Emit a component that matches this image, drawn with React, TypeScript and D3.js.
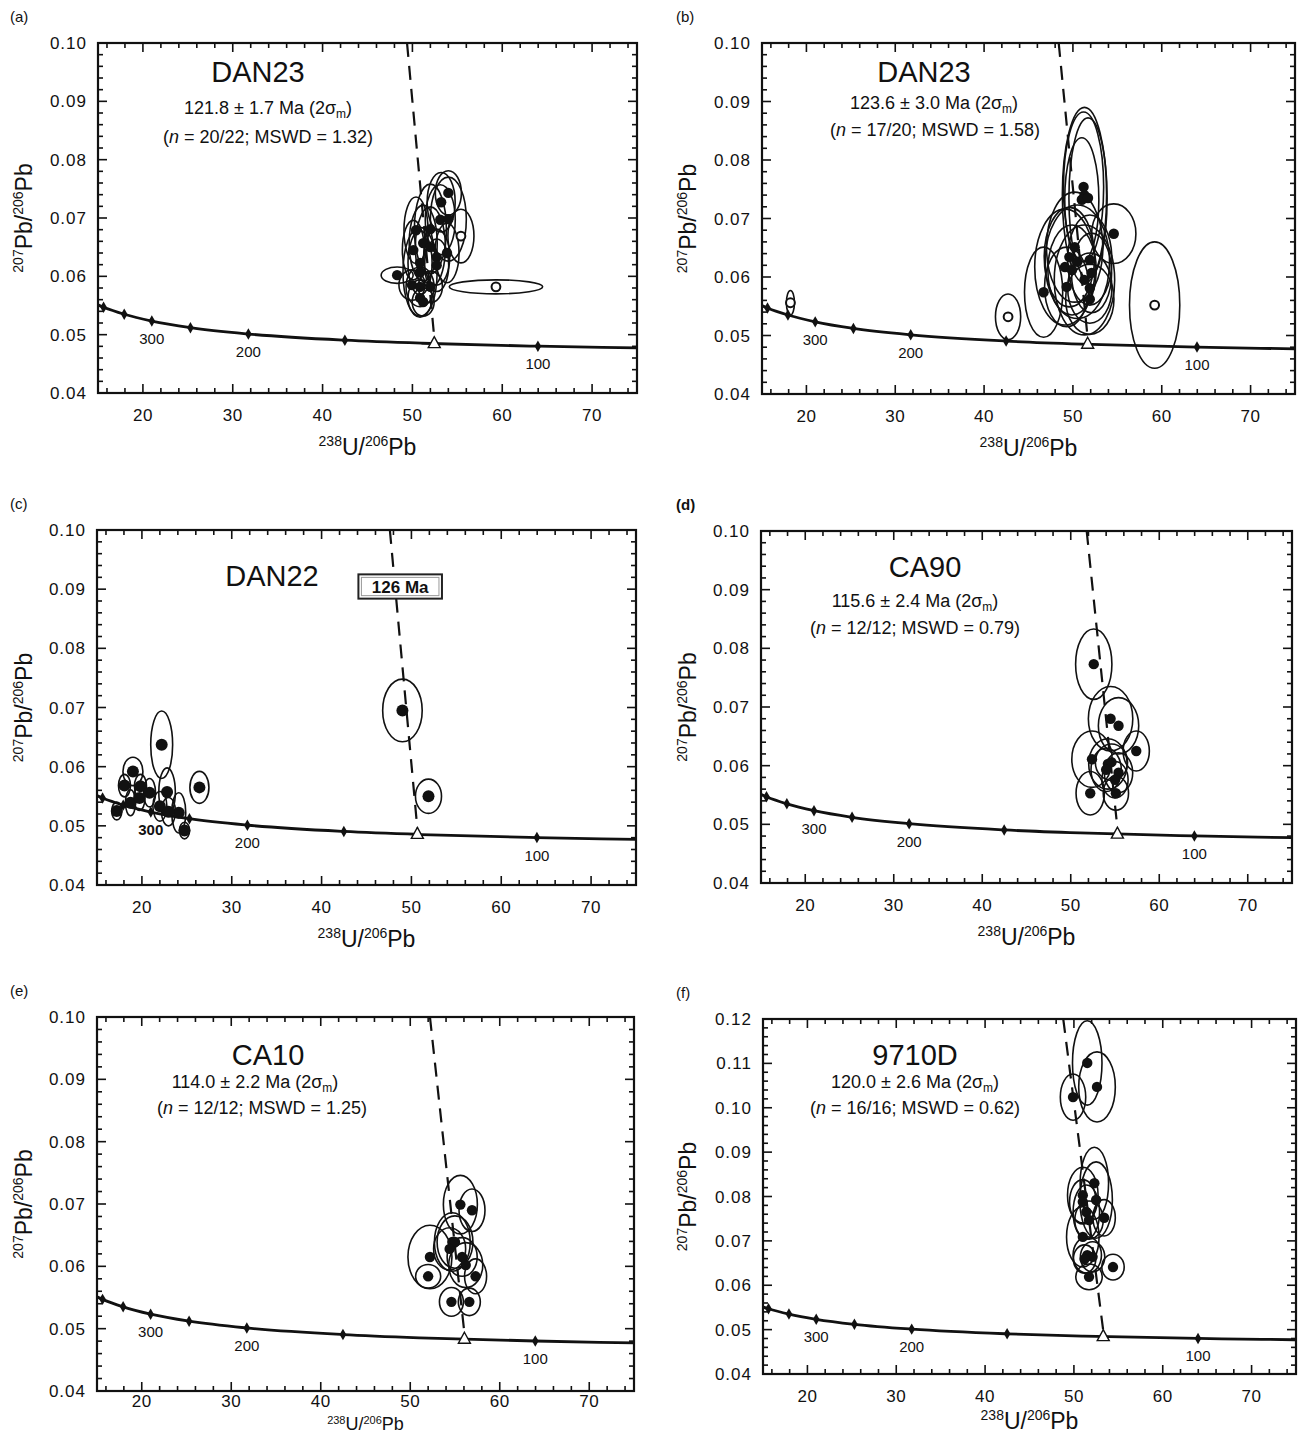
import React from 'react';
import * as d3 from 'd3';

// Tera-Wasserburg concordia nodes (age Ma, 238U/206Pb, 207Pb/206Pb)
const concordiaAge = [450, 400, 350, 300, 250, 200, 150, 125, 100, 90, 80];
const concordiaU = [13.83, 15.62, 17.92, 20.99, 25.29, 31.74, 42.48, 51.07, 63.97, 71.13, 80.08];
const concordiaPb = [0.05594, 0.0547, 0.0535, 0.05233, 0.0512, 0.05011, 0.04905, 0.04853, 0.04802, 0.04781, 0.04761];
const markerAges = [400, 350, 300, 250, 200, 150, 100];
const labelAges = [300, 200, 100];

const xTickLabels = [20, 30, 40, 50, 60, 70];
const yTickLabels = [0.04, 0.05, 0.06, 0.07, 0.08, 0.09, 0.1];
const yTickLabelsF = [0.04, 0.05, 0.06, 0.07, 0.08, 0.09, 0.1, 0.11, 0.12];

// ellipses: [238U/206Pb, 207Pb/206Pb, half-width x, half-height y, used(1)/rejected(0)]
const ellA = [
  [54.0, 0.0743, 1.45, 0.0038, 1],
  [53.2, 0.0727, 1.56, 0.0051, 1],
  [53.1, 0.0697, 1.67, 0.006, 1],
  [54.0, 0.0698, 2.0, 0.0072, 1],
  [50.4, 0.0679, 1.34, 0.0057, 1],
  [51.2, 0.0657, 1.56, 0.0065, 1],
  [52.0, 0.065, 1.67, 0.0069, 1],
  [50.1, 0.0645, 1.22, 0.0051, 1],
  [52.7, 0.0633, 1.45, 0.0048, 1],
  [53.85, 0.064, 1.34, 0.0051, 1],
  [52.7, 0.0619, 1.34, 0.0045, 1],
  [50.85, 0.0623, 1.34, 0.0055, 1],
  [49.95, 0.0585, 1.45, 0.0026, 1],
  [52.0, 0.0582, 1.34, 0.0027, 1],
  [50.85, 0.0563, 1.34, 0.0031, 1],
  [51.2, 0.0556, 1.22, 0.0024, 1],
  [50.85, 0.0582, 1.56, 0.0034, 1],
  [48.3, 0.0602, 1.78, 0.0014, 1],
  [52.0, 0.0681, 1.78, 0.0077, 1],
  [50.85, 0.0607, 1.9, 0.0077, 1],
  [55.4, 0.0669, 1.45, 0.0046, 0],
  [59.3, 0.0582, 5.2, 0.0012, 0],
];
const ellB = [
  [51.2, 0.0754, 2.26, 0.0128, 1],
  [51.3, 0.074, 2.49, 0.015, 1],
  [51.0, 0.0732, 1.92, 0.0106, 1],
  [51.7, 0.0735, 2.15, 0.0137, 1],
  [54.6, 0.0674, 2.49, 0.0051, 1],
  [50.2, 0.0651, 3.17, 0.0094, 1],
  [49.6, 0.0634, 2.83, 0.0085, 1],
  [51.9, 0.0629, 2.49, 0.0077, 1],
  [49.1, 0.0617, 3.4, 0.0099, 1],
  [49.9, 0.0612, 2.72, 0.0077, 1],
  [52.1, 0.0607, 2.26, 0.0068, 1],
  [51.3, 0.0595, 3.4, 0.0094, 1],
  [46.7, 0.0574, 2.15, 0.0077, 1],
  [49.3, 0.0583, 2.49, 0.0068, 1],
  [51.9, 0.0581, 2.49, 0.006, 1],
  [51.9, 0.0562, 2.72, 0.006, 1],
  [50.5, 0.0626, 3.62, 0.0097, 1],
  [42.7, 0.0532, 1.42, 0.0039, 0],
  [59.2, 0.0552, 2.83, 0.0108, 0],
  [18.2, 0.0556, 0.45, 0.0021, 0],
];
const ellC = [
  [22.2, 0.0637, 1.22, 0.0057, 1],
  [19.0, 0.0592, 1.11, 0.0024, 1],
  [26.4, 0.0565, 1.06, 0.0027, 1],
  [18.06, 0.0568, 0.67, 0.0019, 1],
  [19.84, 0.0567, 0.67, 0.002, 1],
  [20.85, 0.0556, 0.67, 0.0024, 1],
  [18.73, 0.0539, 0.56, 0.0022, 1],
  [19.73, 0.0547, 0.61, 0.0021, 1],
  [22.8, 0.0557, 0.92, 0.0041, 1],
  [22.0, 0.0533, 0.78, 0.0025, 1],
  [24.1, 0.0522, 0.78, 0.0034, 1],
  [22.96, 0.0524, 0.78, 0.0024, 1],
  [17.2, 0.0525, 0.56, 0.0015, 1],
  [24.74, 0.0492, 0.56, 0.0014, 1],
  [49.0, 0.0695, 2.2, 0.0053, 1],
  [51.9, 0.055, 1.45, 0.0029, 1],
];
const ellD = [
  [52.6, 0.0773, 2.05, 0.006, 1],
  [54.5, 0.068, 2.51, 0.0055, 1],
  [55.4, 0.0668, 2.28, 0.0048, 1],
  [57.4, 0.0625, 1.48, 0.0034, 1],
  [52.4, 0.0611, 2.28, 0.0048, 1],
  [52.2, 0.0553, 1.6, 0.0037, 1],
  [54.2, 0.0603, 2.17, 0.0043, 1],
  [54.6, 0.0606, 1.82, 0.0031, 1],
  [54.0, 0.0593, 1.71, 0.0037, 1],
  [55.4, 0.0588, 1.6, 0.0034, 1],
  [55.0, 0.0576, 1.48, 0.0031, 1],
  [55.1, 0.0553, 1.43, 0.0029, 1],
];
const ellE = [
  [55.6, 0.0699, 1.9, 0.0047, 1],
  [56.9, 0.069, 1.45, 0.0034, 1],
  [52.2, 0.0615, 2.46, 0.0051, 1],
  [54.7, 0.0639, 2.0, 0.0047, 1],
  [55.0, 0.0639, 2.0, 0.0042, 1],
  [54.4, 0.0628, 1.79, 0.0034, 1],
  [52.0, 0.0584, 1.4, 0.0019, 1],
  [56.2, 0.0602, 1.9, 0.0036, 1],
  [57.3, 0.0584, 1.23, 0.0028, 1],
  [54.6, 0.0543, 1.34, 0.0023, 1],
  [56.6, 0.0543, 1.23, 0.0022, 1],
  [55.8, 0.0615, 1.68, 0.0031, 1],
];
const ellF = [
  [51.5, 0.1101, 1.66, 0.0095, 1],
  [52.6, 0.1047, 2.06, 0.0079, 1],
  [49.9, 0.1024, 1.43, 0.0052, 1],
  [52.3, 0.083, 1.6, 0.0081, 1],
  [51.0, 0.0803, 1.72, 0.0063, 1],
  [51.0, 0.0788, 1.49, 0.005, 1],
  [51.4, 0.0765, 1.49, 0.0061, 1],
  [53.4, 0.0752, 1.26, 0.0041, 1],
  [51.7, 0.0747, 1.6, 0.0043, 1],
  [51.0, 0.0709, 1.83, 0.0068, 1],
  [51.5, 0.0668, 1.6, 0.0041, 1],
  [52.1, 0.0664, 1.37, 0.0034, 1],
  [51.2, 0.0659, 1.26, 0.0032, 1],
  [54.4, 0.0641, 1.26, 0.0029, 1],
  [51.7, 0.0619, 1.49, 0.0029, 1],
  [52.5, 0.0792, 1.83, 0.0086, 1],
];

// discordia: [upper point x, upper point y, intercept x, intercept y]
const discA = [49.4, 0.1, 52.43, 0.04846];
const discB = [48.4, 0.1, 51.66, 0.0485];
const discC = [47.6, 0.1, 50.66, 0.04855];
const discD = [51.8, 0.1, 55.27, 0.04833];
const discE = [52.2, 0.1, 56.05, 0.0483];
const discF = [48.8, 0.12, 53.3, 0.04842];

const FONT = "'Liberation Sans', Arial, Helvetica, sans-serif";

const panels = [
  { id: 'a', label: '(a)', bold: false, left: 98, top: 43, width: 539, height: 350, yMax: 0.1, ell: ellA, disc: discA,
    sample: 'DAN23', age: '121.8 ± 1.7 Ma', stats: ' = 20/22; MSWD = 1.32', t: [160, 39], s: [170, 71], m: [170, 100] },
  { id: 'b', label: '(b)', bold: false, left: 762, top: 43, width: 533, height: 351, yMax: 0.1, ell: ellB, disc: discB,
    sample: 'DAN23', age: '123.6 ± 3.0 Ma', stats: ' = 17/20; MSWD = 1.58', t: [162, 39], s: [172, 66], m: [173, 93] },
  { id: 'c', label: '(c)', bold: false, left: 97, top: 530, width: 539, height: 355, yMax: 0.1, ell: ellC, disc: discC,
    sample: 'DAN22', box: '126  Ma', t: [175, 56] },
  { id: 'd', label: '(d)', bold: true, left: 761, top: 531, width: 531, height: 352, yMax: 0.1, ell: ellD, disc: discD,
    sample: 'CA90', age: '115.6 ± 2.4 Ma', stats: ' = 12/12; MSWD = 0.79', t: [164, 46], s: [154, 76], m: [154, 103] },
  { id: 'e', label: '(e)', bold: false, left: 97, top: 1017, width: 537, height: 374, yMax: 0.1, ell: ellE, disc: discE,
    sample: 'CA10', age: '114.0 ± 2.2 Ma', stats: ' = 12/12; MSWD = 1.25', t: [171, 48], s: [158, 71], m: [165, 97],
    tickDy: 16, titleY: 1430, titleSize: 18 },
  { id: 'f', label: '(f)', bold: false, left: 763, top: 1019, width: 533, height: 355, yMax: 0.12, ell: ellF, disc: discF,
    sample: '9710D', age: '120.0 ± 2.6 Ma', stats: ' = 16/16; MSWD = 0.62', t: [152, 46], s: [152, 69], m: [152, 95],
    titleY: 1429 },
];

const isMajor = (v: number, step: number) => Math.abs(v / step - Math.round(v / step)) < 1e-6;

function Panel({ p }: { p: any }) {
  const x = d3.scaleLinear().domain([15, 75]).range([p.left, p.left + p.width]);
  const y = d3.scaleLinear().domain([0.04, p.yMax]).range([p.top + p.height, p.top]);
  const bottom = p.top + p.height;
  const right = p.left + p.width;
  const xMinor = x.ticks(30);
  const yMinor = y.ticks(p.yMax > 0.1 ? 40 : 30);
  const yLabels = p.yMax > 0.1 ? yTickLabelsF : yTickLabels;

  const nodes = concordiaAge.map((a, i) => ({ age: a, u: concordiaU[i], pb: concordiaPb[i] }));
  const line = d3.line<any>().x(d => x(d.u)).y(d => y(d.pb)).curve(d3.curveMonotoneX);
  const diamond = d3.symbol().type(d3.symbolDiamond).size(38)();
  const clip = `clip-${p.id}`;
  const [ux, uy, ix, iy] = p.disc;
  const tx = x(ix), ty = y(iy);
  const cx = (p.left + right) / 2;
  const cy = (p.top + bottom) / 2;
  const yTitleX = p.left < 400 ? 24 : 688;
  const tickDy = p.tickDy || 28;
  const titleY = p.titleY || bottom + 62;
  const tSize = p.titleSize || 23;
  const supSize = tSize < 22 ? 11 : 14;
  const supDy = tSize < 22 ? 6 : 9;

  return (
    <g fontFamily={FONT} fill="#111">
      <clipPath id={clip}>
        <rect x={p.left} y={p.top} width={p.width} height={p.height} />
      </clipPath>
      <text x={p.left < 400 ? 10 : 676} y={p.top - 21} fontSize={15} fontWeight={p.bold ? 'bold' : 'normal'}>{p.label}</text>

      <g clipPath={`url(#${clip})`}>
        <path d={line(nodes) || ''} fill="none" stroke="#111" strokeWidth={2.8} />
        {nodes.filter(n => markerAges.includes(n.age)).map(n => (
          <path key={n.age} d={diamond || ''} transform={`translate(${x(n.u)},${y(n.pb)})`} fill="#111" />
        ))}
        <line x1={x(ux)} y1={y(uy)} x2={tx} y2={ty - 6} stroke="#111" strokeWidth={2.2} strokeDasharray="14 9" />
        {p.ell.map((e: number[], i: number) => (
          <ellipse key={i} cx={x(e[0])} cy={y(e[1])} rx={x(e[0] + e[2]) - x(e[0])} ry={y(e[1]) - y(e[1] + e[3])}
            fill="none" stroke="#111" strokeWidth={1.6} />
        ))}
        {p.ell.map((e: number[], i: number) => e[4] ? (
          <circle key={'d' + i} cx={x(e[0])} cy={y(e[1])} r={p.id === 'c' ? 6 : 5.2} fill="#111" />
        ) : (
          <circle key={'d' + i} cx={x(e[0])} cy={y(e[1])} r={4.4} fill="#fff" stroke="#111" strokeWidth={2} />
        ))}
      </g>
      <path d={`M${tx},${ty - 7}L${tx + 6},${ty + 4}L${tx - 6},${ty + 4}Z`} fill="#fff" stroke="#111" strokeWidth={1.4} />
      {nodes.filter(n => labelAges.includes(n.age)).map(n => (
        <text key={n.age} x={x(n.u)} y={y(n.pb) + 23} fontSize={15} textAnchor="middle"
          fontWeight={p.id === 'c' && n.age === 300 ? 'bold' : 'normal'}>{n.age}</text>
      ))}

      <rect x={p.left} y={p.top} width={p.width} height={p.height} fill="none" stroke="#111" strokeWidth={2.2} />
      {xMinor.map(v => {
        const L = isMajor(v, 10) ? 9 : 5;
        return (
          <g key={'x' + v} stroke="#111" strokeWidth={1.6}>
            <line x1={x(v)} x2={x(v)} y1={bottom} y2={bottom - L} />
            <line x1={x(v)} x2={x(v)} y1={p.top} y2={p.top + L} />
          </g>
        );
      })}
      {yMinor.map(v => {
        const L = isMajor(v, 0.01) ? 9 : 5;
        return (
          <g key={'y' + v} stroke="#111" strokeWidth={1.6}>
            <line x1={p.left} x2={p.left + L} y1={y(v)} y2={y(v)} />
            <line x1={right} x2={right - L} y1={y(v)} y2={y(v)} />
          </g>
        );
      })}
      {xTickLabels.map(v => (
        <text key={'xl' + v} x={x(v)} y={bottom + tickDy} fontSize={17} textAnchor="middle" letterSpacing={0.5}>{v}</text>
      ))}
      {yLabels.map(v => (
        <text key={'yl' + v} x={p.left - 11} y={y(v) + 6} fontSize={17} textAnchor="end" letterSpacing={1}>{v.toFixed(2)}</text>
      ))}

      <text x={cx} y={titleY} fontSize={tSize} textAnchor="middle">
        <tspan fontSize={supSize} dy={-supDy}>238</tspan><tspan dy={supDy}>U/</tspan>
        <tspan fontSize={supSize} dy={-supDy}>206</tspan><tspan dy={supDy}>Pb</tspan>
      </text>
      <text transform={`translate(${yTitleX + 8},${cy}) rotate(-90)`} fontSize={23} textAnchor="middle">
        <tspan fontSize={14} dy={-9}>207</tspan><tspan dy={9}>Pb/</tspan>
        <tspan fontSize={14} dy={-9}>206</tspan><tspan dy={9}>Pb</tspan>
      </text>

      <text x={p.left + p.t[0]} y={p.top + p.t[1]} fontSize={29} textAnchor="middle">{p.sample}</text>
      {p.age && (
        <text x={p.left + p.s[0]} y={p.top + p.s[1]} fontSize={18} textAnchor="middle">
          <tspan>{p.age + ' (2σ'}</tspan><tspan fontSize={12} dy={4}>m</tspan><tspan dy={-4}>)</tspan>
        </text>
      )}
      {p.stats && (
        <text x={p.left + p.m[0]} y={p.top + p.m[1]} fontSize={18} textAnchor="middle">
          <tspan>(</tspan><tspan fontStyle="italic">n</tspan><tspan>{p.stats + ')'}</tspan>
        </text>
      )}
      {p.box && (
        <g>
          <rect x={x(44.1)} y={y(0.0925)} width={x(53.4) - x(44.1)} height={y(0.0884) - y(0.0925)} fill="#fff" stroke="#222" strokeWidth={2} />
          <rect x={x(44.1) + 3} y={y(0.0925) + 3} width={x(53.4) - x(44.1) - 6} height={y(0.0884) - y(0.0925) - 6} fill="none" stroke="#999" strokeWidth={1} />
          <text x={(x(44.1) + x(53.4)) / 2} y={y(0.09045) + 6} fontSize={17} fontWeight="bold" textAnchor="middle">{p.box}</text>
        </g>
      )}
    </g>
  );
}

export default function App() {
  return (
    <div style={{ position: 'absolute', left: 0, top: 0 }}>
      <svg width={1303} height={1435} style={{ display: 'block', background: '#fff' }}>
        {panels.map(p => <Panel key={p.id} p={p} />)}
      </svg>
    </div>
  );
}
